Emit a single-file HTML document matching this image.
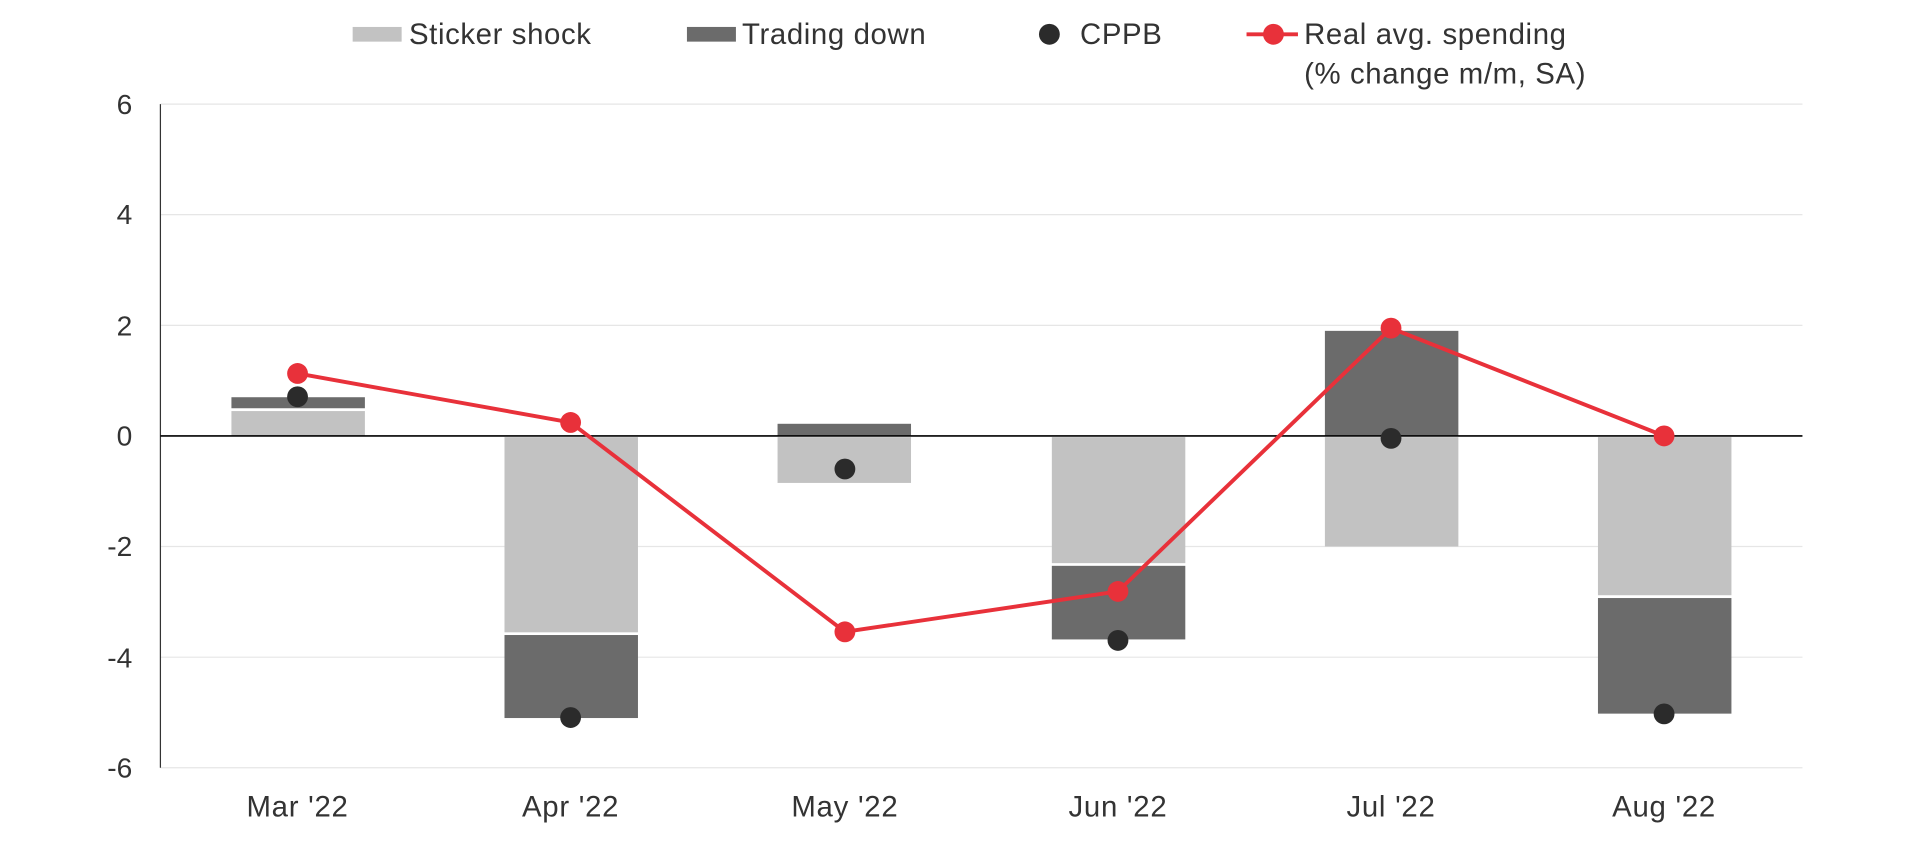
<!DOCTYPE html>
<html><head><meta charset="utf-8"><style>
html,body{margin:0;padding:0;background:#fff;}
svg{display:block;}
text{font-family:"Liberation Sans",sans-serif;fill:#333;}
</style></head><body>
<svg width="1920" height="864" viewBox="0 0 1568 705.6" preserveAspectRatio="none">
<g stroke="#e6e6e6" stroke-width="1">
<line x1="131" y1="85" x2="1472" y2="85"/>
<line x1="131" y1="175.3" x2="1472" y2="175.3"/>
<line x1="131" y1="265.7" x2="1472" y2="265.7"/>
<line x1="131" y1="446.3" x2="1472" y2="446.3"/>
<line x1="131" y1="536.7" x2="1472" y2="536.7"/>
<line x1="131" y1="627" x2="1472" y2="627"/>
</g>
<line x1="131" y1="85" x2="131" y2="627" stroke="#333" stroke-width="1"/>
<g font-size="23" text-anchor="end">
<text x="108" y="93">6</text>
<text x="108" y="183">4</text>
<text x="108" y="274">2</text>
<text x="108" y="364">0</text>
<text x="108" y="454">-2</text>
<text x="108" y="545">-4</text>
<text x="108" y="635">-6</text>
</g>
<g fill="#c2c2c2">
<rect x="189" y="335.7" width="109" height="20.3"/>
<rect x="412" y="357" width="109" height="159.4"/>
<rect x="635" y="357" width="109" height="37.4"/>
<rect x="859" y="357" width="109" height="102.9"/>
<rect x="1082" y="357" width="109" height="89.3"/>
<rect x="1305" y="357" width="109" height="129.1"/>
</g>
<g fill="#6b6b6b">
<rect x="189" y="324.4" width="109" height="9"/>
<rect x="412" y="518.6" width="109" height="67.8"/>
<rect x="635" y="346.1" width="109" height="9.9"/>
<rect x="859" y="462.1" width="109" height="60.1"/>
<rect x="1082" y="270.2" width="109" height="85.8"/>
<rect x="1305" y="488.4" width="109" height="94.4"/>
</g>
<line x1="131" y1="356" x2="1472" y2="356" stroke="#000" stroke-width="1.3"/>
<g fill="#2b2b2b">
<circle cx="243" cy="324" r="8.5"/>
<circle cx="466" cy="586" r="8.5"/>
<circle cx="690" cy="383" r="8.5"/>
<circle cx="913" cy="523" r="8.5"/>
<circle cx="1136" cy="358" r="8.5"/>
<circle cx="1359" cy="583" r="8.5"/>
</g>
<polyline points="243,305 466,345 690,516 913,483 1136,268 1359,356" fill="none" stroke="#e8313a" stroke-width="3.2"/>
<g fill="#e8313a">
<circle cx="243" cy="305" r="8.5"/>
<circle cx="466" cy="345" r="8.5"/>
<circle cx="690" cy="516" r="8.5"/>
<circle cx="913" cy="483" r="8.5"/>
<circle cx="1136" cy="268" r="8.5"/>
<circle cx="1359" cy="356" r="8.5"/>
</g>
<g font-size="24" text-anchor="middle" letter-spacing="0.6">
<text x="243" y="667">Mar '22</text>
<text x="466" y="667">Apr '22</text>
<text x="690" y="667">May '22</text>
<text x="913" y="667">Jun '22</text>
<text x="1136" y="667">Jul '22</text>
<text x="1359" y="667">Aug '22</text>
</g>
<g font-size="24" letter-spacing="0.5">
<rect x="288" y="22" width="40" height="12" fill="#c2c2c2"/>
<text x="334" y="36">Sticker shock</text>
<rect x="561" y="22" width="40" height="12" fill="#6b6b6b"/>
<text x="606" y="36">Trading down</text>
<circle cx="857" cy="28" r="8.5" fill="#2b2b2b"/>
<text x="882" y="36">CPPB</text>
<line x1="1018" y1="28" x2="1060" y2="28" stroke="#e8313a" stroke-width="3.2"/>
<circle cx="1040" cy="28" r="8.5" fill="#e8313a"/>
<text x="1065" y="36">Real avg. spending</text>
<text x="1065" y="68">(% change m/m, SA)</text>
</g>
</svg>
</body></html>
